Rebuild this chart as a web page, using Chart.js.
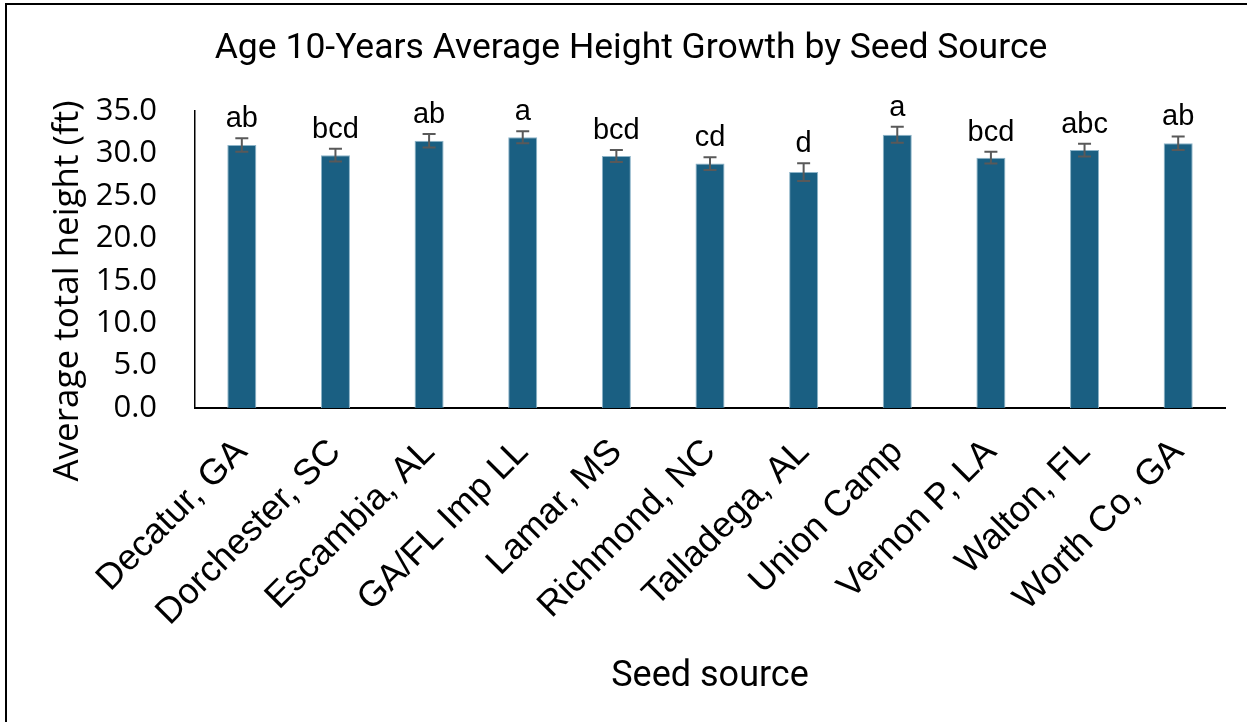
<!DOCTYPE html>
<html>
<head>
<meta charset="utf-8">
<script src="https://cdn.jsdelivr.net/npm/chart.js@4/dist/chart.umd.min.js"></script>
<style>
    html, body { margin: 0; padding: 0; background: #fff; overflow: hidden; }
    #wrap { position: relative; width: 1247px; height: 722px; }
    #frame { position: absolute; left: 5px; top: 3px; width: 1260px; height: 740px; border: 2px solid #000; box-sizing: border-box; pointer-events: none; }
    canvas { position: absolute; left: 0; top: 0; }
</style>
</head>
<body>
<div id="wrap">
    <canvas id="chart" width="1247" height="722"></canvas>
    <div id="frame"></div>
</div>
<script>
const sources = ['Decatur, GA', 'Dorchester, SC', 'Escambia, AL', 'GA/FL Imp LL', 'Lamar, MS', 'Richmond, NC',
    'Talladega, AL', 'Union Camp', 'Vernon P, LA', 'Walton, FL', 'Worth Co, GA'];
const heights = [31.0, 29.8, 31.5, 31.9, 29.7, 28.8, 27.8, 32.2, 29.5, 30.4, 31.2];
const stdErrors = [0.8, 0.75, 0.8, 0.7, 0.7, 0.75, 1.05, 0.95, 0.7, 0.75, 0.8];
const groups = ['ab', 'bcd', 'ab', 'a', 'bcd', 'cd', 'd', 'a', 'bcd', 'abc', 'ab'];
const chartTitle = 'Age 10-Years Average Height Growth by Seed Source';
const yTitle = 'Average total height (ft)';

// error bars, significance letters and the titles that Excel placed off-centre
const errorBarPlugin = {
    id: 'errorBars',
    afterDatasetsDraw(chart) {
        const ctx = chart.ctx;
        const yScale = chart.scales.y;
        const bars = chart.getDatasetMeta(0).data;
        ctx.save();
        bars.forEach((bar, i) => {
            const top = yScale.getPixelForValue(heights[i] + stdErrors[i]);
            const bottom = yScale.getPixelForValue(heights[i] - stdErrors[i]);
            ctx.strokeStyle = '#595959';
            ctx.lineWidth = 2;
            ctx.beginPath();
            ctx.moveTo(bar.x, top);
            ctx.lineTo(bar.x, bottom);
            ctx.moveTo(bar.x - 6.5, top);
            ctx.lineTo(bar.x + 6.5, top);
            ctx.moveTo(bar.x - 6.5, bottom);
            ctx.lineTo(bar.x + 6.5, bottom);
            ctx.stroke();

            ctx.fillStyle = '#000';
            ctx.font = "29px 'Liberation Sans', Arial, sans-serif";
            ctx.textAlign = 'center';
            ctx.textBaseline = 'alphabetic';
            ctx.fillText(groups[i], bar.x, top - 11);
        });
        ctx.restore();
    },
    afterDraw(chart) {
        const ctx = chart.ctx;
        ctx.save();
        ctx.fillStyle = '#000';
        ctx.textAlign = 'center';
        ctx.textBaseline = 'middle';
        ctx.font = "35.5px Roboto, sans-serif";
        ctx.fillText(chartTitle, 631, 49);

        ctx.translate(68, 291);
        ctx.rotate(-Math.PI / 2);
        ctx.font = "35px 'Open Sans', sans-serif";
        ctx.fillText(yTitle, 0, 0);
        ctx.restore();
    }
};

const ctx = document.getElementById('chart').getContext('2d');
new Chart(ctx, {
    type: 'bar',
    data: {
        labels: sources,
        datasets: [{
            data: heights,
            backgroundColor: '#1A5F82',
            borderColor: '#8DB4C8',
            borderWidth: { top: 1, left: 1, right: 1, bottom: 0 },
            categoryPercentage: 1.0,
            barPercentage: 0.31
        }]
    },
    plugins: [errorBarPlugin],
    options: {
        responsive: false,
        animation: false,
        layout: { padding: { left: 0, right: 22, top: 111, bottom: 0 } },
        plugins: {
            legend: { display: false },
            tooltip: { enabled: false },
            title: { display: false }
        },
        scales: {
            y: {
                min: 0,
                max: 35,
                afterFit: (scale) => { scale.width = 195; },
                ticks: {
                    stepSize: 5,
                    color: '#000',
                    padding: 38,
                    font: { family: "'Open Sans'", size: 31 },
                    callback: (v) => v.toFixed(1)
                },
                grid: { display: false, drawTicks: false, tickLength: 0 },
                border: { display: true, color: '#000', width: 1.5 }
            },
            x: {
                afterFit: (scale) => { scale.height = 314; },
                ticks: {
                    color: '#000',
                    minRotation: 45,
                    maxRotation: 45,
                    autoSkip: false,
                    padding: 23,
                    font: { family: "'Liberation Sans'", size: 36 }
                },
                grid: { display: false, drawTicks: false, tickLength: 0 },
                border: { display: true, color: '#000', width: 2 },
                title: {
                    display: true,
                    text: 'Seed source',
                    color: '#000',
                    font: { family: 'Roboto', size: 36, lineHeight: 1.2 },
                    padding: { top: 0, bottom: 23 }
                }
            }
        }
    }
});
</script>
</body>
</html>
